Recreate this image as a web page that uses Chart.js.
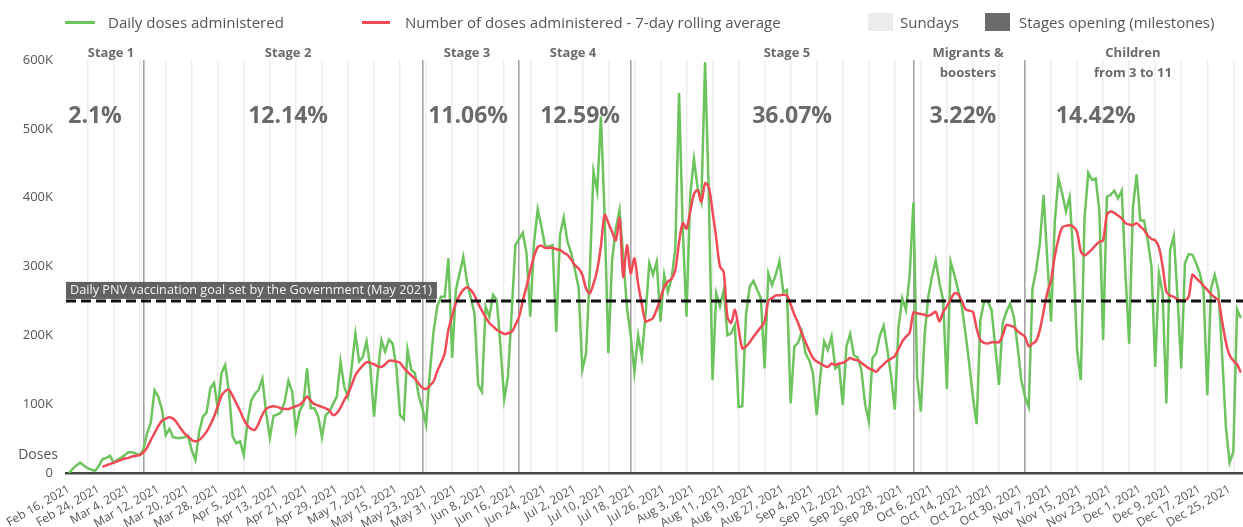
<!DOCTYPE html>
<html>
<head>
<meta charset="utf-8">
<script src="https://cdn.jsdelivr.net/npm/chart.js@4.4.0/dist/chart.umd.min.js"></script>
<style>
  html, body { margin: 0; padding: 0; background: #fff; }
  #wrap { position: relative; width: 1243px; height: 527px; overflow: hidden; }
  #c { position: absolute; left: 0; top: 0; }
  #legend { position: absolute; left: 0; top: 0; width: 1243px; height: 44px;
            font-family: "Open Sans", sans-serif; font-size: 15px; color: #555; }
  .lg-text { position: absolute; top: 10px; height: 24px; line-height: 24px; white-space: nowrap; }
  .lg-sw { position: absolute; }
</style>
</head>
<body>
<div id="wrap">
  <canvas id="c" width="1243" height="527"></canvas>
  <div id="legend"></div>
</div>
<script>
// ---------------- DATA ----------------
// Day index 0 = Feb 16, 2021. Values in thousands of doses.
const dailyDosesK = [
  0,6,11,15,11,7,5,3,10,20,
  22,25,15,19,22,26,30,30,28,26,
  34,58,73,120,111,92,55,64,52,51,
  51,52,54,33,19,60,82,88,123,131,
  93,145,157,118,53,43,46,26,75,105,
  115,121,137,87,51,83,85,88,104,134,
  118,62,90,100,152,94,94,82,52,84,
  89,100,111,162,125,111,154,202,162,169,
  191,154,82,145,193,176,194,188,154,84,
  78,179,150,145,113,94,70,145,205,242,
  256,256,312,167,266,290,314,278,255,232,
  128,118,242,227,259,251,184,107,140,232,
  331,340,349,319,227,334,383,358,329,329,
  331,205,346,371,336,320,295,270,150,174,
  290,438,409,518,373,174,309,355,382,314,
  240,200,147,200,169,230,305,288,307,220,
  288,263,283,326,552,355,227,404,456,414,
  394,597,404,135,261,242,266,200,203,215,
  96,97,230,271,279,266,254,152,290,273,
  288,308,263,266,101,184,189,205,174,164,
  145,84,142,191,179,198,152,157,99,184,
  202,171,168,150,101,75,167,174,200,214,
  179,140,92,213,254,237,288,393,140,89,
  200,256,285,309,276,251,122,307,288,266,
  242,203,159,110,71,222,249,249,237,184,
  128,218,234,246,227,184,135,111,96,268,
  295,334,404,309,220,365,428,406,380,401,
  314,179,135,370,436,426,428,380,193,401,
  404,410,399,410,290,188,385,434,367,367,
  338,300,154,290,261,101,324,344,256,152,
  305,318,317,305,290,266,113,268,288,265,
  171,67,15,31,238,225
];

const rollingAvgK = [
  null,null,null,null,null,null,null,null,null,9,
  11,13,15,17,19,21,22,24,25,26,
  30,37,48,58,68,76,79,81,79,73,
  65,58,53,48,46,48,53,60,70,82,
  97,112,119,121,112,101,90,78,69,64,
  63,72,85,93,96,97,96,94,93,93,
  95,97,99,104,111,105,100,98,96,94,
  91,84,87,95,106,115,128,142,150,156,
  161,160,158,155,154,158,163,163,162,160,
  153,147,142,137,130,124,122,127,133,148,
  160,174,208,228,247,258,266,270,266,258,
  246,236,226,218,213,208,205,202,203,205,
  215,227,250,271,294,314,328,330,327,327,
  327,325,324,320,317,310,302,297,288,268,
  261,275,295,330,375,363,350,338,370,285,
  331,290,312,275,245,220,222,225,238,253,
  270,278,282,295,335,363,355,380,405,411,
  394,421,415,380,341,300,292,227,218,237,
  210,181,184,190,198,205,212,220,250,254,
  258,258,259,258,245,230,218,203,190,178,
  167,162,159,156,154,159,157,159,160,163,
  167,165,164,160,156,152,150,147,153,158,
  163,166,170,180,191,198,204,233,232,231,
  230,228,231,234,220,234,242,252,261,260,
  250,238,236,234,210,193,189,188,190,190,
  190,200,215,214,212,206,202,198,184,188,
  192,208,235,262,280,315,340,357,359,360,
  358,350,322,316,320,325,331,336,338,375,
  380,378,374,370,363,361,360,363,358,353,
  345,340,338,328,300,263,258,256,252,251,
  251,256,288,283,278,272,266,260,255,251,
  220,190,171,163,158,146
];

const tickLabels = [
  'Feb 16, 2021','Feb 24, 2021','Mar 4, 2021','Mar 12, 2021','Mar 20, 2021','Mar 28, 2021',
  'Apr 5, 2021','Apr 13, 2021','Apr 21, 2021','Apr 29, 2021','May 7, 2021','May 15, 2021',
  'May 23, 2021','May 31, 2021','Jun 8, 2021','Jun 16, 2021','Jun 24, 2021','Jul 2, 2021',
  'Jul 10, 2021','Jul 18, 2021','Jul 26, 2021','Aug 3, 2021','Aug 11, 2021','Aug 19, 2021',
  'Aug 27, 2021','Sep 4, 2021','Sep 12, 2021','Sep 20, 2021','Sep 28, 2021','Oct 6, 2021',
  'Oct 14, 2021','Oct 22, 2021','Oct 30, 2021','Nov 7, 2021','Nov 15, 2021','Nov 23, 2021',
  'Dec 1, 2021','Dec 9, 2021','Dec 17, 2021','Dec 25, 2021'
];
const tickStepDays = 8;
const yTickLabels = ['0','100K','200K','300K','400K','500K','600K'];
const yTickStepK = 100;
const yAxisTitle = 'Doses';

const firstSundayDay = 5;       // Feb 21, 2021
const milestoneDays = [20, 95, 121, 151, 227, 257];
const stageNames = [['Stage 1'],['Stage 2'],['Stage 3'],['Stage 4'],['Stage 5'],['Migrants &','boosters'],['Children','from 3 to 11']];
const stageShares = ['2.1%','12.14%','11.06%','12.59%','36.07%','3.22%','14.42%'];

const goalValueK = 250;
const goalLabel = 'Daily PNV vaccination goal set by the Government (May 2021)';

const legendLabels = ['Daily doses administered','Number of doses administered - 7-day rolling average','Sundays','Stages opening (milestones)'];

// ---------------- LAYOUT / STYLE ----------------
const STYLE = {
  green: '#6dc35e', red: '#ef4a56', goal: '#111111',
  sunday: '#ededed', milestone: '#a4a4a4', legendMilestone: '#6b6b6b', legendSunday: '#ececec',
  text: '#555555', stageText: '#6a6a6a', font: '"Open Sans", sans-serif'
};
const LAYOUT = {
  xMin: -0.8, xMax: 315.6,
  stageNameDay: [11.3, 58.9, 107, 135.5, 193, 241.7, 286],
  shareDay: [7, 58.9, 107.3, 137.4, 194.4, 240.3, 276],
  stageNameY: 53, stageLine2Y: 73, shareY: 116,
  legend: [
    {kind:'line', color: STYLE.green, swX: 65, swW: 30, textX: 108},
    {kind:'line', color: STYLE.red, swX: 362, swW: 28, textX: 405},
    {kind:'box', color: STYLE.legendSunday, swX: 868, swW: 25, textX: 900},
    {kind:'box', color: STYLE.legendMilestone, swX: 985, swW: 25, textX: 1019}
  ]
};

// ---------------- LEGEND (HTML) ----------------
const lg = document.getElementById('legend');
legendLabels.forEach((txt, i) => {
  const it = LAYOUT.legend[i];
  const sw = document.createElement('div');
  sw.className = 'lg-sw';
  sw.style.left = it.swX + 'px';
  sw.style.width = it.swW + 'px';
  sw.style.background = it.color;
  if (it.kind === 'line') { sw.style.top = '21px'; sw.style.height = '3px'; }
  else { sw.style.top = '13px'; sw.style.height = '18px'; }
  lg.appendChild(sw);
  const t = document.createElement('div');
  t.className = 'lg-text';
  t.style.left = it.textX + 'px';
  t.textContent = txt;
  lg.appendChild(t);
});

// ---------------- CHART ----------------
const sundayTicks = [];
for (let d = firstSundayDay; d <= LAYOUT.xMax; d += 7) sundayTicks.push({value: d});

const annotations = {
  id: 'annotations',
  afterDatasetsDraw(chart) {
    const {ctx, scales: {x, y}, chartArea} = chart;
    ctx.save();
    // goal label
    const gy = y.getPixelForValue(goalValueK);
    ctx.font = '12.7px ' + STYLE.font;
    const tw = ctx.measureText(goalLabel).width;
    ctx.fillStyle = 'rgba(88,88,88,0.94)';
    ctx.fillRect(chartArea.left, gy - 19, tw + 9, 17);
    ctx.fillStyle = '#f4f4f4';
    ctx.textAlign = 'left';
    ctx.textBaseline = 'middle';
    ctx.fillText(goalLabel, chartArea.left + 4, gy - 10.5);

    // stage names
    ctx.fillStyle = STYLE.stageText;
    ctx.textAlign = 'center';
    ctx.font = 'bold 13px ' + STYLE.font;
    stageNames.forEach((lines, i) => {
      const px = x.getPixelForValue(LAYOUT.stageNameDay[i]);
      ctx.fillText(lines[0], px, LAYOUT.stageNameY);
      if (lines[1]) ctx.fillText(lines[1], px, LAYOUT.stageLine2Y);
    });
    // shares
    ctx.font = 'bold 23px ' + STYLE.font;
    stageShares.forEach((s, i) => {
      ctx.fillText(s, x.getPixelForValue(LAYOUT.shareDay[i]), LAYOUT.shareY);
    });
    // y-axis title
    ctx.font = '14px ' + STYLE.font;
    ctx.fillStyle = STYLE.text;
    ctx.textAlign = 'right';
    ctx.fillText(yAxisTitle, chartArea.left - 8, y.getPixelForValue(0) - 18);
    ctx.restore();
  }
};

new Chart(document.getElementById('c'), {
  type: 'line',
  data: {
    datasets: [
      {
        label: 'goal',
        data: [{x: LAYOUT.xMin, y: goalValueK}, {x: LAYOUT.xMax, y: goalValueK}],
        borderColor: STYLE.goal, borderWidth: 3, borderDash: [10, 5],
        pointRadius: 0, order: 0
      },
      {
        label: legendLabels[1],
        data: rollingAvgK.map((v, i) => ({x: i, y: v})),
        borderColor: STYLE.red, borderWidth: 2.5, pointRadius: 0, tension: 0.3, order: 1
      },
      {
        label: legendLabels[0],
        data: dailyDosesK.map((v, i) => ({x: i, y: v})),
        borderColor: STYLE.green, borderWidth: 2.5, pointRadius: 0, tension: 0, order: 2
      }
    ]
  },
  options: {
    responsive: false,
    animation: false,
    devicePixelRatio: 1,
    layout: {padding: {top: 60, left: 0, right: 0, bottom: 0}},
    plugins: {legend: {display: false}, tooltip: {enabled: false}},
    scales: {
      x: {
        type: 'linear', position: 'bottom', min: LAYOUT.xMin, max: LAYOUT.xMax, weight: 10,
        afterBuildTicks: s => { s.ticks = tickLabels.map((_, i) => ({value: i * tickStepDays})); },
        ticks: {
          autoSkip: false, minRotation: 30, maxRotation: 30, padding: 9,
          color: STYLE.text, font: {family: 'Open Sans', size: 12},
          callback: (v, i) => tickLabels[i]
        },
        grid: {display: false, drawTicks: false},
        border: {display: true, color: '#454545', width: 2.5},
        afterFit: s => { s.height = 54; s.paddingLeft = 0; s.paddingRight = 0; }
      },
      sun: {
        type: 'linear', position: 'bottom', min: LAYOUT.xMin, max: LAYOUT.xMax, weight: 1,
        afterBuildTicks: s => { s.ticks = sundayTicks.slice(); },
        ticks: {display: false},
        grid: {color: STYLE.sunday, lineWidth: 1.5, drawTicks: false},
        border: {display: false},
        afterFit: s => { s.height = 0; s.paddingLeft = 0; s.paddingRight = 0; }
      },
      stg: {
        type: 'linear', position: 'bottom', min: LAYOUT.xMin, max: LAYOUT.xMax, weight: 2,
        afterBuildTicks: s => { s.ticks = milestoneDays.map(v => ({value: v})); },
        ticks: {display: false},
        grid: {color: STYLE.milestone, lineWidth: 1.6, drawTicks: false},
        border: {display: false},
        afterFit: s => { s.height = 0; s.paddingLeft = 0; s.paddingRight = 0; }
      },
      y: {
        type: 'linear', min: 0, max: 600,
        afterBuildTicks: s => { s.ticks = yTickLabels.map((_, i) => ({value: i * yTickStepK})); },
        ticks: {color: STYLE.text, font: {family: 'Open Sans', size: 13}, padding: 13,
                callback: (v, i) => yTickLabels[i]},
        grid: {display: false, drawTicks: false},
        border: {display: false},
        afterFit: s => { s.width = 66; }
      }
    }
  },
  plugins: [annotations]
});
</script>
</body>
</html>
